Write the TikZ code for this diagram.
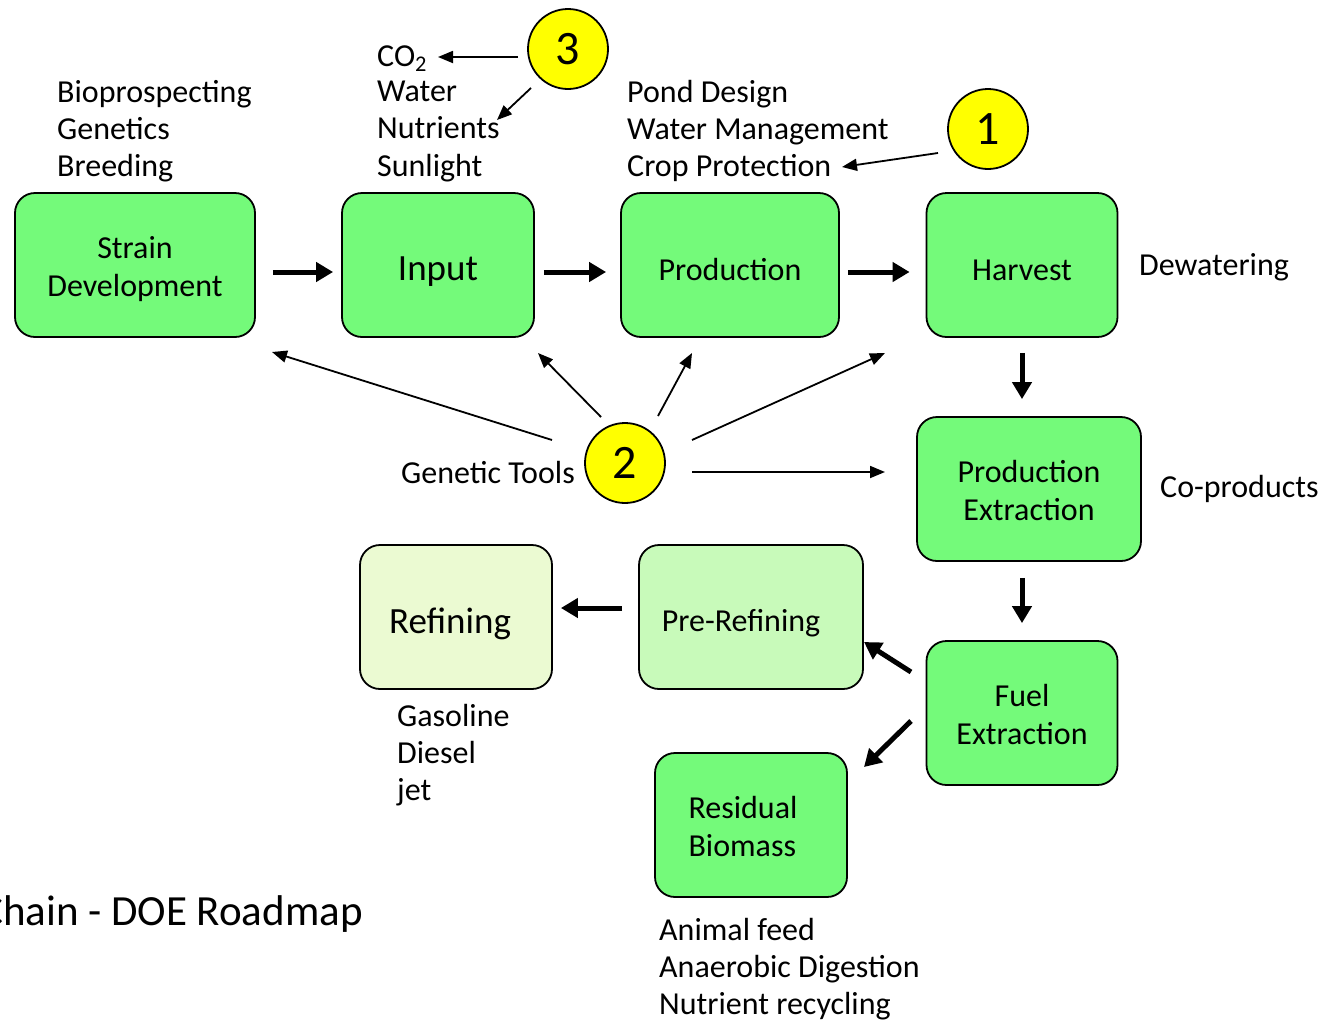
\documentclass[tikz,border=0pt]{standalone}
\usepackage{fontspec}
\setmainfont{Carlito}
\usetikzlibrary{arrows.meta}
\definecolor{boxgreen}{RGB}{116,250,122}
\definecolor{pregreen}{RGB}{200,250,186}
\definecolor{refgreen}{RGB}{235,250,210}
\definecolor{numyellow}{RGB}{255,255,0}
\newcommand\dn[2]{\raisebox{-#1}[\height][\depth]{#2}}
\newcommand\bxc[1]{\dn{5pt}{\begin{tabular}{@{}c@{}}#1\end{tabular}}}
\newcommand\bxl[1]{\dn{5pt}{\begin{tabular}{@{}l@{}}#1\end{tabular}}}
\begin{document}
\begin{tikzpicture}[x=1pt,y=-1pt,
  box/.style={draw=black,line width=1.8pt,rounded corners=20pt,fill=boxgreen,align=center,inner sep=0pt,minimum height=144pt,font=\fontsize{32}{38}\selectfont},
  num/.style={circle,draw=black,line width=1.8pt,fill=numyellow,minimum size=80pt,inner sep=0pt,font=\fontsize{48}{48}\selectfont},
  lbl/.style={anchor=base west,inner sep=0pt,font=\fontsize{32}{38}\selectfont},
  arr/.style={-{Triangle[length=15pt,width=12pt]},line width=1.8pt},
  big/.style={-{Triangle[length=17pt,width=19pt]},line width=5pt}]
\useasboundingbox (0,0) rectangle (1331,1021);
\fill[white] (0,0) rectangle (1331,1021);

% boxes
\node[box,minimum width=240pt] (sd) at (135,265) {\bxc{Strain\\Development}};
\node[box,minimum width=192pt,font=\fontsize{37}{40}\selectfont] (in) at (438,265) {\dn{7pt}{Input}};
\node[box,minimum width=218pt] (pd) at (730,265) {\dn{5pt}{Production}};
\node[box,minimum width=191pt] (hv) at (1022,265) {\dn{5pt}{Harvest}};
\node[box,minimum width=224pt] (pe) at (1029,489) {\bxc{Production\\Extraction}};
\node[box,minimum width=191pt] (fe) at (1022,713) {\bxc{Fuel\\Extraction}};
\node[box,minimum width=224pt,fill=pregreen] (pr) at (751,617) {\hspace*{-20pt}\dn{6pt}{Pre-Refining}};
\node[box,minimum width=192pt,fill=refgreen,font=\fontsize{37}{40}\selectfont] (rf) at (456,617) {\hspace*{-12pt}\dn{7pt}{Refining}};
\node[box,minimum width=192pt] (rb) at (751,825) {\hspace*{-16pt}\bxl{Residual\\Biomass}};

% numbered circles
\node[num] (c3) at (568,49) {3};
\node[num] (c1) at (988,129) {1};
\node[num] (c2) at (625,463) {2};

% labels
\node[lbl] (l1) at (57,102) {Bioprospecting};
\node[lbl] (l2) at (57,139) {Genetics};
\node[lbl] (l3) at (57,176) {Breeding};
\node[lbl] (l4) at (377,66) {CO\textsubscript{2}};
\node[lbl] (l5) at (377,101) {Water};
\node[lbl] (l6) at (377,138) {Nutrients};
\node[lbl] (l7) at (377,176) {Sunlight};
\node[lbl] (l8) at (627,102) {Pond Design};
\node[lbl] (l9) at (627,139) {Water Management};
\node[lbl] (l10) at (627,176) {Crop Protection};
\node[lbl] (l11) at (1139,275) {Dewatering};
\node[lbl,anchor=base east] (l12) at (575,483) {Genetic Tools};
\node[lbl] (l13) at (1160,497) {Co-products};
\node[lbl] (l14) at (397,726) {Gasoline};
\node[lbl] (l15) at (397,763) {Diesel};
\node[lbl] (l16) at (397,800) {jet};
\node[lbl] (l17) at (659,940) {Animal feed};
\node[lbl] (l18) at (659,977) {Anaerobic Digestion};
\node[lbl] (l19) at (659,1014) {Nutrient recycling};
\node[lbl,anchor=base east,font=\fontsize{43}{48}\selectfont] (l20) at (363,925) {Chain - DOE Roadmap};

% free ends
\coordinate (a3s) at (518,57);   \coordinate (a3e) at (438,57);
\coordinate (b3s) at (531,88);   \coordinate (b3e) at (497,120);
\coordinate (a1s) at (938,153);  \coordinate (a1e) at (842,167);
\coordinate (g1s) at (552,440);  \coordinate (g1e) at (272,352);
\coordinate (g2s) at (601,417);  \coordinate (g2e) at (538,353);
\coordinate (g3s) at (658,416);  \coordinate (g3e) at (692,353);
\coordinate (g4s) at (692,440);  \coordinate (g4e) at (885,353);
\coordinate (g5s) at (692,472);  \coordinate (g5e) at (885,472);
\coordinate (f1s) at (911,672);  \coordinate (f1e) at (864,642);
\coordinate (f2s) at (911,721);  \coordinate (f2e) at (864,767);

% thin arrows
\draw[arr] (a3s) -- (a3e);
\draw[arr] (b3s) -- (b3e);
\draw[arr] (a1s) -- (a1e);
\draw[arr] (g1s) -- (g1e);
\draw[arr] (g2s) -- (g2e);
\draw[arr] (g3s) -- (g3e);
\draw[arr] (g4s) -- (g4e);
\draw[arr] (g5s) -- (g5e);

% thick arrows
\draw[big,shorten <=17pt,shorten >=8pt] ([yshift=-7pt]sd.east) -- ([yshift=-7pt]in.west);
\draw[big,shorten <=9pt,shorten >=14pt] ([yshift=-7pt]in.east) -- ([yshift=-7pt]pd.west);
\draw[big,shorten <=8pt,shorten >=16pt] ([yshift=-7pt]pd.east) -- ([yshift=-7pt]hv.west);
\draw[big,shorten <=15pt,shorten >=17pt] (hv.south) -- (hv.south |- pe.north);
\draw[big,shorten <=16pt,shorten >=17pt] (fe.north |- pe.south) -- (fe.north);
\draw[big,shorten <=16pt,shorten >=8pt] ([yshift=9pt]pr.west) -- ([yshift=9pt]rf.east);
\draw[big] (f1s) -- (f1e);
\draw[big] (f2s) -- (f2e);
\end{tikzpicture}
\end{document}
